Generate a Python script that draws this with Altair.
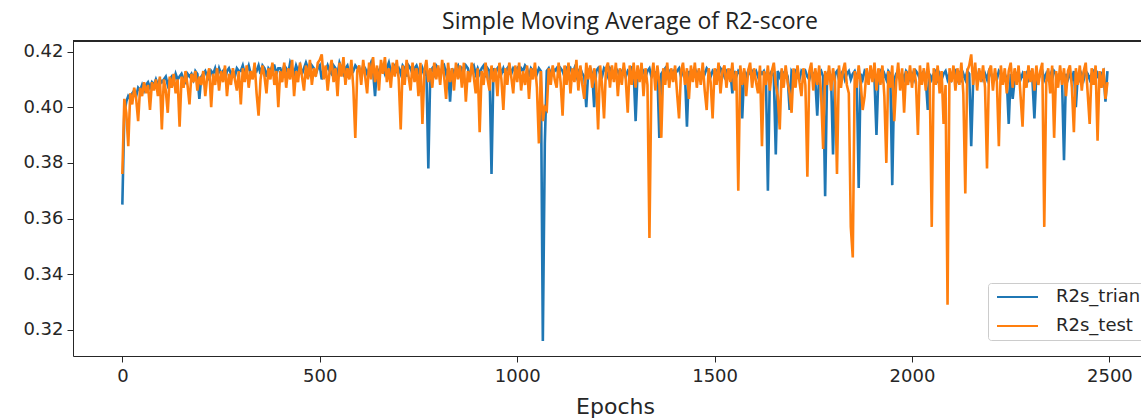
import altair as alt
import pandas as pd

# Epoch sampling (every 5 epochs)
epochs = list(range(0, 2500, 5))

# R2s_trian (blue) moving-average values, one row = 100 epochs
r2_train = [
    0.365, 0.398, 0.402, 0.404, 0.403, 0.405, 0.406, 0.404, 0.407, 0.406, 0.408, 0.406, 0.408, 0.409, 0.407, 0.409, 0.408, 0.410, 0.408, 0.410,
    0.409, 0.410, 0.411, 0.408, 0.410, 0.411, 0.409, 0.412, 0.410, 0.411, 0.412, 0.410, 0.409, 0.412, 0.411, 0.412, 0.410, 0.413, 0.412, 0.403,
    0.411, 0.412, 0.413, 0.411, 0.410, 0.413, 0.412, 0.414, 0.411, 0.414, 0.412, 0.413, 0.410, 0.413, 0.414, 0.412, 0.413, 0.411, 0.414, 0.413,
    0.413, 0.415, 0.412, 0.413, 0.415, 0.412, 0.411, 0.414, 0.413, 0.415, 0.412, 0.415, 0.414, 0.411, 0.414, 0.413, 0.415, 0.415, 0.412, 0.414,
    0.414, 0.412, 0.415, 0.414, 0.412, 0.416, 0.414, 0.412, 0.415, 0.413, 0.415, 0.412, 0.414, 0.416, 0.414, 0.412, 0.415, 0.414, 0.412, 0.414,
    0.415, 0.410, 0.414, 0.413, 0.415, 0.413, 0.412, 0.415, 0.414, 0.412, 0.416, 0.414, 0.412, 0.414, 0.415, 0.412, 0.414, 0.413, 0.415, 0.414,
    0.414, 0.412, 0.415, 0.414, 0.412, 0.414, 0.416, 0.413, 0.404, 0.414, 0.412, 0.415, 0.414, 0.412, 0.414, 0.416, 0.413, 0.414, 0.415, 0.413,
    0.414, 0.412, 0.415, 0.414, 0.411, 0.415, 0.414, 0.412, 0.414, 0.415, 0.413, 0.411, 0.414, 0.412, 0.414, 0.378, 0.413, 0.414, 0.412, 0.415,
    0.414, 0.412, 0.414, 0.415, 0.412, 0.414, 0.402, 0.414, 0.412, 0.414, 0.415, 0.412, 0.414, 0.413, 0.415, 0.414, 0.411, 0.414, 0.415, 0.412,
    0.414, 0.412, 0.414, 0.415, 0.412, 0.414, 0.413, 0.376, 0.414, 0.412, 0.414, 0.415, 0.412, 0.414, 0.412, 0.414, 0.415, 0.412, 0.414, 0.413,
    0.414, 0.412, 0.414, 0.413, 0.415, 0.414, 0.411, 0.414, 0.413, 0.414, 0.412, 0.414, 0.413, 0.316, 0.387, 0.413, 0.414, 0.412, 0.414, 0.413,
    0.414, 0.412, 0.414, 0.413, 0.411, 0.414, 0.413, 0.414, 0.412, 0.414, 0.411, 0.413, 0.414, 0.412, 0.411, 0.400, 0.413, 0.414, 0.412, 0.400,
    0.413, 0.414, 0.412, 0.411, 0.414, 0.413, 0.411, 0.414, 0.413, 0.411, 0.414, 0.413, 0.411, 0.413, 0.414, 0.411, 0.413, 0.412, 0.414, 0.413,
    0.395, 0.413, 0.411, 0.414, 0.413, 0.411, 0.413, 0.414, 0.411, 0.413, 0.412, 0.413, 0.389, 0.412, 0.413, 0.414, 0.411, 0.413, 0.412, 0.413,
    0.412, 0.413, 0.414, 0.411, 0.413, 0.412, 0.393, 0.413, 0.411, 0.413, 0.414, 0.412, 0.413, 0.411, 0.413, 0.412, 0.414, 0.413, 0.411, 0.413,
    0.412, 0.413, 0.411, 0.414, 0.413, 0.411, 0.413, 0.412, 0.413, 0.405, 0.413, 0.411, 0.413, 0.412, 0.396, 0.413, 0.411, 0.413, 0.412, 0.413,
    0.412, 0.413, 0.411, 0.413, 0.412, 0.413, 0.411, 0.370, 0.412, 0.413, 0.411, 0.383, 0.413, 0.411, 0.413, 0.412, 0.413, 0.411, 0.399, 0.413,
    0.412, 0.413, 0.411, 0.410, 0.413, 0.412, 0.413, 0.411, 0.410, 0.413, 0.412, 0.410, 0.397, 0.412, 0.413, 0.411, 0.368, 0.412, 0.413, 0.411,
    0.383, 0.412, 0.413, 0.410, 0.412, 0.413, 0.410, 0.412, 0.413, 0.410, 0.412, 0.413, 0.411, 0.371, 0.412, 0.410, 0.413, 0.412, 0.410, 0.412,
    0.412, 0.410, 0.390, 0.412, 0.413, 0.410, 0.412, 0.410, 0.413, 0.412, 0.372, 0.410, 0.412, 0.413, 0.410, 0.412, 0.410, 0.413, 0.412, 0.410,
    0.412, 0.410, 0.413, 0.412, 0.410, 0.412, 0.413, 0.410, 0.399, 0.412, 0.410, 0.412, 0.413, 0.410, 0.412, 0.410, 0.412, 0.413, 0.410, 0.412,
    0.410, 0.412, 0.413, 0.410, 0.412, 0.410, 0.412, 0.410, 0.413, 0.412, 0.386, 0.410, 0.412, 0.410, 0.413, 0.412, 0.410, 0.412, 0.410, 0.413,
    0.412, 0.410, 0.412, 0.410, 0.413, 0.412, 0.410, 0.412, 0.410, 0.394, 0.412, 0.403, 0.410, 0.412, 0.413, 0.410, 0.412, 0.410, 0.412, 0.410,
    0.412, 0.410, 0.396, 0.412, 0.410, 0.412, 0.413, 0.410, 0.412, 0.410, 0.412, 0.410, 0.413, 0.412, 0.410, 0.412, 0.410, 0.381, 0.412, 0.410,
    0.412, 0.410, 0.413, 0.400, 0.412, 0.410, 0.412, 0.410, 0.413, 0.412, 0.410, 0.412, 0.413, 0.410, 0.412, 0.410, 0.412, 0.413, 0.402, 0.413,
]

# R2s_test (orange) moving-average values, one row = 100 epochs
r2_test = [
    0.376, 0.403, 0.398, 0.386, 0.405, 0.401, 0.407, 0.403, 0.395, 0.407, 0.404, 0.409, 0.405, 0.408, 0.399, 0.409, 0.406, 0.410, 0.404, 0.411,
    0.392, 0.410, 0.406, 0.398, 0.411, 0.407, 0.412, 0.405, 0.410, 0.393, 0.411, 0.407, 0.413, 0.408, 0.401, 0.412, 0.409, 0.413, 0.406, 0.411,
    0.408, 0.413, 0.404, 0.411, 0.414, 0.400, 0.412, 0.408, 0.414, 0.406, 0.413, 0.409, 0.415, 0.404, 0.412, 0.408, 0.414, 0.410, 0.406, 0.413,
    0.401, 0.414, 0.409, 0.415, 0.407, 0.413, 0.410, 0.416, 0.405, 0.397, 0.410, 0.415, 0.411, 0.405, 0.414, 0.410, 0.416, 0.408, 0.413, 0.400,
    0.413, 0.409, 0.416, 0.407, 0.414, 0.410, 0.417, 0.404, 0.413, 0.409, 0.416, 0.411, 0.406, 0.415, 0.410, 0.417, 0.408, 0.414, 0.411, 0.416,
    0.417, 0.419, 0.410, 0.415, 0.406, 0.413, 0.417, 0.409, 0.414, 0.404, 0.416, 0.411, 0.418, 0.408, 0.414, 0.410, 0.417, 0.407, 0.389, 0.413,
    0.415, 0.408, 0.417, 0.411, 0.405, 0.416, 0.410, 0.418, 0.409, 0.415, 0.406, 0.417, 0.412, 0.418, 0.409, 0.414, 0.407, 0.416, 0.411, 0.417,
    0.410, 0.392, 0.415, 0.408, 0.417, 0.411, 0.406, 0.416, 0.409, 0.414, 0.404, 0.416, 0.394, 0.413, 0.417, 0.409, 0.414, 0.407, 0.416, 0.410,
    0.415, 0.408, 0.417, 0.411, 0.403, 0.416, 0.409, 0.414, 0.406, 0.416, 0.410, 0.415, 0.407, 0.416, 0.402, 0.413, 0.409, 0.416, 0.411, 0.405,
    0.414, 0.391, 0.413, 0.408, 0.416, 0.410, 0.406, 0.415, 0.409, 0.414, 0.404, 0.416, 0.410, 0.399, 0.414, 0.408, 0.416, 0.411, 0.405, 0.415,
    0.409, 0.416, 0.406, 0.413, 0.408, 0.415, 0.403, 0.414, 0.410, 0.416, 0.407, 0.387, 0.413, 0.395, 0.400, 0.399, 0.414, 0.408, 0.415, 0.410,
    0.407, 0.416, 0.409, 0.397, 0.415, 0.408, 0.416, 0.405, 0.414, 0.409, 0.417, 0.406, 0.415, 0.408, 0.403, 0.416, 0.410, 0.415, 0.407, 0.414,
    0.409, 0.392, 0.415, 0.408, 0.396, 0.414, 0.416, 0.407, 0.415, 0.409, 0.416, 0.404, 0.414, 0.408, 0.416, 0.410, 0.398, 0.415, 0.408, 0.416,
    0.407, 0.415, 0.409, 0.416, 0.404, 0.414, 0.408, 0.353, 0.410, 0.416, 0.406, 0.415, 0.409, 0.389, 0.414, 0.408, 0.416, 0.407, 0.414, 0.409,
    0.415, 0.405, 0.396, 0.413, 0.416, 0.408, 0.414, 0.403, 0.415, 0.409, 0.416, 0.407, 0.414, 0.408, 0.416, 0.406, 0.399, 0.414, 0.409, 0.396,
    0.414, 0.408, 0.416, 0.405, 0.413, 0.415, 0.407, 0.414, 0.409, 0.416, 0.406, 0.413, 0.370, 0.415, 0.408, 0.414, 0.404, 0.413, 0.416, 0.407,
    0.414, 0.409, 0.405, 0.415, 0.386, 0.413, 0.408, 0.415, 0.406, 0.413, 0.416, 0.408, 0.404, 0.392, 0.414, 0.407, 0.415, 0.409, 0.405, 0.398,
    0.414, 0.407, 0.415, 0.409, 0.404, 0.414, 0.408, 0.375, 0.413, 0.416, 0.406, 0.414, 0.408, 0.415, 0.404, 0.385, 0.413, 0.408, 0.415, 0.406,
    0.414, 0.409, 0.376, 0.415, 0.407, 0.413, 0.416, 0.408, 0.405, 0.357, 0.346, 0.413, 0.407, 0.415, 0.409, 0.399, 0.404, 0.414, 0.408, 0.415,
    0.409, 0.416, 0.406, 0.414, 0.408, 0.415, 0.404, 0.380, 0.413, 0.407, 0.415, 0.395, 0.409, 0.416, 0.406, 0.414, 0.398, 0.413, 0.408, 0.415,
    0.407, 0.414, 0.409, 0.390, 0.415, 0.408, 0.414, 0.406, 0.416, 0.409, 0.357, 0.414, 0.408, 0.415, 0.405, 0.413, 0.394, 0.408, 0.329, 0.414,
    0.409, 0.415, 0.406, 0.414, 0.408, 0.416, 0.405, 0.369, 0.413, 0.415, 0.419, 0.408, 0.416, 0.406, 0.414, 0.409, 0.415, 0.407, 0.378, 0.413,
    0.415, 0.406, 0.414, 0.409, 0.386, 0.415, 0.408, 0.414, 0.405, 0.413, 0.416, 0.407, 0.414, 0.408, 0.415, 0.404, 0.393, 0.413, 0.407, 0.415,
    0.409, 0.414, 0.406, 0.415, 0.408, 0.413, 0.416, 0.357, 0.409, 0.414, 0.405, 0.415, 0.389, 0.413, 0.407, 0.415, 0.408, 0.414, 0.404, 0.413,
    0.415, 0.407, 0.391, 0.414, 0.408, 0.415, 0.406, 0.413, 0.416, 0.405, 0.394, 0.414, 0.408, 0.415, 0.388, 0.413, 0.407, 0.414, 0.403, 0.409,
]

series_names = ["R2s_trian", "R2s_test"]
series_colors = ["#1f77b4", "#ff7f0e"]
x_ticks = [0, 500, 1000, 1500, 2000, 2500]
y_ticks = [0.32, 0.34, 0.36, 0.38, 0.40, 0.42]

df = pd.DataFrame({
    "Epochs": epochs * 2,
    "value": r2_train + r2_test,
    "series": [series_names[0]] * len(epochs) + [series_names[1]] * len(epochs),
})

W, H = 1068, 315
FONT = "DejaVu Sans"
INK = "#262626"

color = alt.Color(
    "series:N",
    scale=alt.Scale(domain=series_names, range=series_colors),
    legend=alt.Legend(
        title=None, orient="none", direction="vertical",
        legendX=915, legendY=242,
        symbolType="M-1,0H7.2", symbolSize=100, symbolStrokeWidth=2,
        labelFont=FONT, labelFontSize=18, labelColor=INK, labelOffset=45,
        rowPadding=11, padding=5,
        fillColor="rgba(255,255,255,0.8)", strokeColor="#cccccc", cornerRadius=3,
        labelLimit=300,
    ),
)

x = alt.X(
    "Epochs:Q",
    scale=alt.Scale(domain=[-125, 2580], nice=False, zero=False),
    axis=alt.Axis(
        values=x_ticks, format="d", grid=False,
        labelFont=FONT, labelFontSize=18, labelColor=INK, labelPadding=5,
        tickSize=6, tickColor=INK, domainColor=INK, labelFlush=False,
        title="Epochs", titleFont=FONT, titleFontSize=22, titleFontWeight="normal",
        titleColor=INK, titleX=542, titleY=57, titleBaseline="alphabetic", titleAlign="center",
    ),
)
y = alt.Y(
    "value:Q",
    scale=alt.Scale(domain=[0.3106, 0.4238], nice=False, zero=False),
    axis=alt.Axis(
        values=y_ticks, format=".2f", grid=False, title=None,
        labelFont=FONT, labelFontSize=18, labelColor=INK, labelPadding=4,
        tickSize=6, tickColor=INK, domainColor=INK,
    ),
)

base = alt.Chart(df)
train_line = base.transform_filter(alt.datum.series == series_names[0]).mark_line(strokeWidth=2.6).encode(x=x, y=y, color=color)
test_line = base.transform_filter(alt.datum.series == series_names[1]).mark_line(strokeWidth=2.6).encode(x=x, y=y, color=color)
top_frame = alt.Chart(df).mark_rule(color=INK, strokeWidth=1).encode(
    x=alt.value(0), x2=alt.value(W), y=alt.value(0)
)

chart = alt.layer(train_line, test_line, top_frame).properties(
    width=W, height=H,
    title=alt.TitleParams(
        "Simple Moving Average of R2-score",
        font="Open Sans", fontSize=23, fontWeight="normal", color="#222222",
        anchor="middle", dx=23, dy=21, offset=10, baseline="alphabetic",
    ),
    autosize=alt.AutoSizeParams(type="none"),
    padding={"left": 73, "top": 41, "right": 0, "bottom": 64},
).configure_view(stroke=None).configure(background="white")

chart.save("out.html", embed_options={"renderer": "svg", "actions": False})
